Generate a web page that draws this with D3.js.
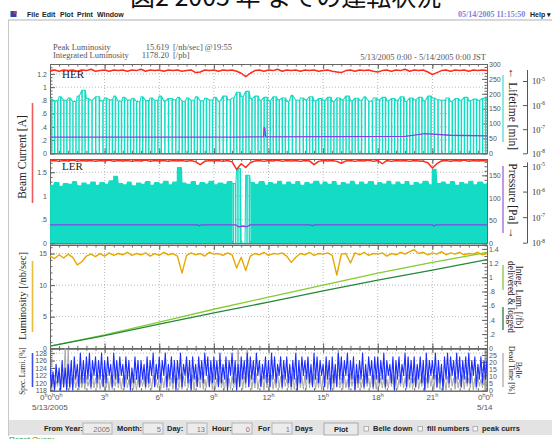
<!DOCTYPE html>
<html>
<head>
<meta charset="utf-8">
<script src="https://cdn.jsdelivr.net/npm/d3@7"></script>
<style>
body { margin: 0; background: #fff; overflow: hidden; }
svg { display: block; }
</style>
</head>
<body>
<div id="chart"></div>
<script>

// ---- values ----
var hourTicks = [0, 3, 6, 9, 12, 15, 18, 21, 24];
var hourLabels = ['3', '6', '9', '12', '15', '18', '21'];

// beam currents [A], one value every 15 min
var herCurrent = [1.25,1.26,1.24,1.26,1.25,1.26,1.24,1.26,1.25,1.27,1.24,1.25,1.26,1.24,1.26,1.25,1.26,1.24,1.26,1.25,
	1.27,1.24,1.26,1.25,1.26,1.24,1.26,1.25,1.26,1.24,1.25,1.26,1.22,1.23,1.26,1.25,1.26,1.24,1.26,1.25,
	1.26,1.24,1.21,1.16,1.21,1.25,1.26,1.24,1.26,1.25,1.27,1.24,1.26,1.25,1.26,1.24,1.26,1.25,1.26,1.24,
	1.25,1.26,1.24,1.23,1.22,1.25,1.26,1.24,1.26,1.25,1.26,1.24,1.23,1.25,1.26,1.24,1.26,1.25,1.27,1.24,
	1.26,1.25,1.26,1.23,1.19,1.22,1.25,1.26,1.24,1.26,1.25,1.26,1.24,1.26,1.25,1.26,1.25];
var lerCurrent = [1.74,1.75,1.73,1.75,1.74,1.76,1.73,1.75,1.74,1.75,1.73,1.75,1.74,1.76,1.73,1.75,1.74,1.75,1.73,1.75,
	1.74,1.76,1.73,1.75,1.74,1.75,1.73,1.75,1.74,1.75,1.73,1.75,1.72,1.66,1.73,1.75,1.74,1.75,1.73,1.75,
	1.72,1.56,1.68,1.60,1.70,1.74,1.75,1.73,1.75,1.74,1.76,1.73,1.75,1.74,1.75,1.73,1.75,1.74,1.66,1.73,
	1.75,1.74,1.75,1.73,1.69,1.74,1.75,1.73,1.75,1.74,1.76,1.73,1.75,1.68,1.75,1.73,1.75,1.74,1.75,1.73,
	1.75,1.74,1.73,1.70,1.59,1.68,1.74,1.75,1.73,1.75,1.74,1.76,1.73,1.75,1.74,1.75,1.74];

// lifetime [min] between injections, every 15 min
var herLife = [182,176,190,178,186,174,192,212,184,178,190,176,186,180,192,175,188,179,185,174,
	190,177,186,178,192,176,184,180,188,175,186,178,190,176,185,179,188,174,192,180,
	186,205,190,208,184,192,178,188,176,190,180,186,174,195,178,186,180,190,176,184,
	178,188,174,186,180,192,176,185,178,190,175,186,180,188,176,184,178,190,174,186,
	180,188,176,192,186,180,178,186,174,184,178,188,176,182,178,185,180];
var lerLife = [128,134,126,132,130,136,127,133,129,135,128,134,130,138,148,132,129,135,127,133,
	130,136,128,134,131,137,129,135,167,133,130,136,128,134,131,137,129,133,130,136,
	132,165,0,150,134,130,136,128,134,131,137,129,135,130,136,128,134,131,137,129,
	135,130,136,128,134,131,137,129,135,130,136,128,134,131,137,129,135,130,136,128,
	134,131,137,129,163,132,135,130,136,128,134,131,137,129,135,130,134];

// injections counted per hour
var herInjPerHour = [6,6,5,6,6,6,5,6,6,5,6,6,6,5,6,6,6,5,6,6,6,5,6,6];
var lerInjPerHour = [14,13,14,14,13,14,14,13,14,14,8,13,14,14,13,14,14,13,14,14,13,14,14,13];

// vacuum pressure [Pa]
var herPTimes  = [0, 10, 11.72, 11.76, 11.8, 11.84, 19.5, 20.6, 22, 24];
var herPValues = [4.7e-8, 4.7e-8, 4.8e-8, 1.15e-7, 1.15e-7, 4.8e-8, 5.0e-8, 6.5e-8, 5.6e-8, 5.3e-8];
var lerPTimes  = [0, 8.1, 8.2, 8.3, 10.2, 10.35, 10.6, 10.8, 11.0, 14.3, 14.4, 14.5, 21.0, 21.1, 21.2, 24];
var lerPValues = [5e-8, 5e-8, 4.6e-8, 5e-8, 5e-8, 4.2e-8, 4.5e-8, 4.2e-8, 5e-8, 5e-8, 4.6e-8, 5e-8, 5e-8, 4.5e-8, 5e-8, 5e-8];

// luminosity [/nb/sec], every 15 min
var lumi = [14.6,14.2,14.8,14.3,14.9,14.4,13.2,13.7,14.6,14.9,14.5,15.0,14.6,15.1,14.7,15.0,14.8,15.2,14.7,15.0,
	14.8,15.1,14.6,15.0,14.7,15.2,14.8,15.0,14.6,11.9,14.7,15.1,14.8,15.0,14.6,15.2,14.9,15.0,14.7,15.1,
	14.8,12.7,14.4,12.3,14.6,15.0,14.8,15.2,14.7,15.0,14.9,15.1,14.6,13.6,14.4,15.0,14.8,15.2,14.7,15.0,
	14.9,15.1,14.7,11.6,14.9,15.0,13.5,15.1,14.8,15.2,14.7,15.0,14.9,15.1,14.6,15.0,14.8,15.2,14.9,15.3,
	15.6,15.0,15.2,14.8,15.1,14.9,15.3,14.8,15.1,14.9,15.2,14.8,15.0,14.9,15.2,14.8,15.0];

// integrated luminosity [/fb], every 3 h
var delivered = [0.03, 0.19, 0.37, 0.55, 0.72, 0.89, 1.06, 1.21, 1.35];
var logged    = [0.03, 0.18, 0.34, 0.50, 0.65, 0.81, 0.96, 1.10, 1.25];

// specific luminosity [%], max and min in each 10 min
var specHi = [124,123,125,124,126,124, 125,126,127,125,128,126, 127,128,126,127,126,128, 126,127,125,128,126,127,
	125,127,126,124,127,126, 126,125,127,126,128,125, 127,126,128,125,127,126, 126,128,125,127,126,127,
	125,127,126,128,127,126, 127,126,128,125,127,126, 128,126,125,127,126,128, 127,126,128,126,125,127,
	126,128,127,125,127,126, 127,125,126,128,126,127, 126,127,125,128,127,126, 125,127,126,127,125,128,
	127,126,128,126,127,125, 126,128,125,127,126,127, 127,126,128,126,125,127, 126,127,125,128,127,126,
	127,125,127,126,128,126, 126,128,126,125,127,128, 127,126,128,127,126,127, 128,126,127,125,127,126, 126];
var specLo = [119,118,120,118,119,118, 119,118,121,119,120,120, 121,119,122,120,121,119, 120,122,119,121,120,122,
	119,121,118,120,121,119, 121,119,120,122,119,121, 120,122,119,121,120,118, 121,119,122,120,118,121,
	119,121,120,122,119,120, 121,119,120,121,118,122, 120,118,119,121,120,119, 121,120,122,119,121,120,
	119,121,120,122,119,121, 120,119,121,118,120,122, 121,120,119,121,120,122, 119,121,118,120,119,121,
	120,122,119,121,118,120, 121,119,120,122,119,121, 120,121,119,122,120,118, 121,120,122,119,121,120,
	119,121,120,118,120,122, 121,119,120,118,121,120, 122,120,121,119,121,120, 120,122,119,121,120,121, 121];

// Belle dead time [%], max and min in each 10 min
var deadHi = [8,9,7,10,12,30, 29,9,11,8,10,9, 10,8,12,9,11,8, 11,9,10,8,12,9,
	9,11,8,13,9,10, 8,10,12,9,11,8, 11,9,10,12,9,11, 9,12,10,20,8,11,
	10,9,13,8,11,10, 12,9,10,8,11,9, 10,9,30,12,10,30, 11,9,12,8,10,11,
	9,11,8,12,10,11, 8,10,12,9,11,10, 11,20,10,12,9,11, 10,18,9,11,12,30,
	9,11,8,12,10,11, 10,8,12,9,11,10, 11,9,10,8,12,10, 10,8,11,9,12,9,
	9,12,8,10,9,11, 10,11,9,12,8,10, 12,9,10,8,11,10, 9,12,9,10,8,11, 10];
var deadLo = [2,1,3,1,2,2, 1,3,2,0,2,1, 3,1,2,2,1,3, 2,0,1,3,2,1, 1,2,3,1,0,2, 3,1,2,1,3,2,
	1,2,0,3,1,2, 2,1,3,2,1,0, 3,2,1,2,3,1, 1,3,2,0,2,1, 2,1,3,1,2,3, 1,2,1,3,0,2,
	3,1,2,2,1,3, 2,0,1,3,2,1, 1,2,3,1,2,0, 3,1,2,1,3,2, 1,2,0,3,1,2, 2,1,3,2,1,1,
	3,2,1,2,3,0, 1,3,2,1,2,1, 2,1,3,1,2,3, 1,2,1,3,0,2, 3,1,2,2,1,3, 2,0,1,3,2,1, 2];


var SERIF = "'Liberation Serif', 'Times New Roman', serif";
var SANS = "'Liberation Sans', Arial, sans-serif";

var svg = d3.select('#chart').append('svg')
	.attr('width', 552)
	.attr('height', 439);

// ---- scales ----
var x = d3.scaleLinear().domain([0, 24]).range([50, 487]);

var yHer = d3.scaleLinear().domain([0, 1.35]).range([153.3, 64]);
var yHerLife = d3.scaleLinear().domain([0, 300]).range([153.3, 64]);
var yHerP = d3.scaleLog().domain([1e-8, 3e-5]).range([153.3, 69.5]);

var yLer = d3.scaleLinear().domain([0, 1.78]).range([243.3, 159]);
var yLerLife = d3.scaleLinear().domain([0, 186]).range([243.3, 159]);
var yLerP = d3.scaleLog().domain([1e-8, 1.45e-5]).range([242.7, 161.9]);

var yLum = d3.scaleLinear().domain([0, 16.35]).range([348.3, 245]);
var yInt = d3.scaleLinear().domain([0, 1.455]).range([348.3, 245]);

var ySpec = d3.scaleLinear().domain([117.9, 129.3]).range([390.7, 348.3]);
var yDead = d3.scaleLinear().domain([0, 29.7]).range([390.7, 348.3]);


// ---- window chrome ----
svg.append('text')
	.attr('x', 130).attr('y', 6)
	.attr('font-family', "'Noto Sans CJK JP', sans-serif")
	.attr('font-size', 25)
	.attr('fill', '#111')
	.text('図2 2005 年 までの運転状況');

svg.append('rect').attr('x', 10.5).attr('y', 11).attr('width', 6).attr('height', 6).attr('fill', '#3040b0');
svg.append('rect').attr('x', 13.5).attr('y', 11).attr('width', 3).attr('height', 3).attr('fill', '#e03030');

var menu = [['File', 27], ['Edit', 42], ['Plot', 60], ['Print', 77], ['Window', 97]];
svg.selectAll('.menu').data(menu).enter().append('text')
	.attr('class', 'menu')
	.attr('x', function(d) { return d[1]; })
	.attr('y', 16.5)
	.attr('font-family', SANS).attr('font-size', 7).attr('font-weight', 'bold')
	.attr('fill', '#222')
	.text(function(d) { return d[0]; });

svg.append('text').attr('x', 458).attr('y', 16.5)
	.attr('font-family', SERIF).attr('font-size', 8).attr('font-weight', 'bold')
	.attr('fill', '#7f7fe0').text('05/14/2005 11:15:50');
svg.append('text').attr('x', 530).attr('y', 16.5)
	.attr('font-family', SANS).attr('font-size', 7).attr('font-weight', 'bold')
	.attr('fill', '#222').text('Help ▾');

svg.append('line').attr('x1', 8).attr('x2', 552).attr('y1', 20).attr('y2', 20)
	.attr('stroke', '#d8d8d8').attr('stroke-width', 2);
svg.append('line').attr('x1', 8.5).attr('x2', 8.5).attr('y1', 20).attr('y2', 436)
	.attr('stroke', '#c8c8c8');

// ---- header texts ----
var head = svg.append('g').attr('font-family', SERIF).attr('font-size', 8.5).attr('fill', '#555');
head.append('text').attr('x', 53).attr('y', 49.5).text('Peak Luminosity');
head.append('text').attr('x', 169).attr('y', 49.5).attr('text-anchor', 'end').text('15.619');
head.append('text').attr('x', 173).attr('y', 49.5).text('[/nb/sec] @19:55');
head.append('text').attr('x', 53).attr('y', 58).text('Integrated Luminosity');
head.append('text').attr('x', 169).attr('y', 58).attr('text-anchor', 'end').text('1178.20');
head.append('text').attr('x', 173).attr('y', 58).text('[/pb]');
head.append('text').attr('x', 486).attr('y', 59.5).attr('text-anchor', 'end')
	.text('5/13/2005 0:00 - 5/14/2005 0:00 JST');


// ---- axis helpers ----
function styleAxis(g) {
	g.attr('font-family', SANS).attr('font-size', 7);
	g.selectAll('path, line').attr('stroke', '#666');
	g.selectAll('text').attr('fill', '#555');
	return g;
}

function fmt(v) {
	return d3.format('~g')(v).replace(/^0\./, '.');
}

function minors(y, step) {
	var d = y.domain();
	return d3.range(Math.ceil(d[0] / step) * step, d[1] + 1e-9, step);
}

function panel(y, top, bottom, leftTicks, leftStep, yR, rightTicks, rightStep) {
	// dotted grid
	svg.append('g').selectAll('line').data(leftTicks.filter(function(v) {
		return y(v) > top + 1 && y(v) < bottom - 1;
	})).enter().append('line')
		.attr('x1', 50).attr('x2', 487)
		.attr('y1', function(d) { return y(d); }).attr('y2', function(d) { return y(d); })
		.attr('stroke', '#b8b8b8').attr('stroke-dasharray', '1,2');
	svg.append('g').selectAll('line').data(hourTicks.slice(1, -1)).enter().append('line')
		.attr('x1', function(d) { return x(d); }).attr('x2', function(d) { return x(d); })
		.attr('y1', top).attr('y2', bottom)
		.attr('stroke', '#b8b8b8').attr('stroke-dasharray', '1,2');

	// time ticks, top and bottom, pointing inward
	var halfHours = d3.range(0, 24.01, 0.5);
	styleAxis(svg.append('g').attr('transform', 'translate(0,' + top + ')')
		.call(d3.axisBottom(x).tickValues(hourTicks).tickSize(5).tickSizeOuter(0).tickFormat('')));
	styleAxis(svg.append('g').attr('transform', 'translate(0,' + top + ')')
		.call(d3.axisBottom(x).tickValues(halfHours).tickSize(2.5).tickSizeOuter(0).tickFormat('')));
	styleAxis(svg.append('g').attr('transform', 'translate(0,' + bottom + ')')
		.call(d3.axisTop(x).tickValues(hourTicks).tickSize(5).tickSizeOuter(0).tickFormat('')));
	styleAxis(svg.append('g').attr('transform', 'translate(0,' + bottom + ')')
		.call(d3.axisTop(x).tickValues(halfHours).tickSize(2.5).tickSizeOuter(0).tickFormat('')));

	// left
	styleAxis(svg.append('g').attr('transform', 'translate(50,0)')
		.call(d3.axisLeft(y).tickValues(leftTicks).tickSize(-5).tickSizeOuter(0).tickPadding(3).tickFormat(fmt)));
	styleAxis(svg.append('g').attr('transform', 'translate(50,0)')
		.call(d3.axisLeft(y).tickValues(minors(y, leftStep)).tickSize(-2.5).tickSizeOuter(0).tickFormat('')));

	// right
	styleAxis(svg.append('g').attr('transform', 'translate(487,0)')
		.call(d3.axisRight(yR).tickValues(rightTicks).tickSize(-5).tickSizeOuter(0).tickPadding(2).tickFormat(fmt)));
	styleAxis(svg.append('g').attr('transform', 'translate(487,0)')
		.call(d3.axisRight(yR).tickValues(minors(yR, rightStep)).tickSize(-2.5).tickSizeOuter(0).tickFormat('')));
}

function clip(id, top, bottom) {
	svg.append('clipPath').attr('id', id).append('rect')
		.attr('x', 50).attr('y', top).attr('width', 437).attr('height', bottom - top);
	return svg.append('g').attr('clip-path', 'url(#' + id + ')');
}

function logAxis(yP) {
	var g = svg.append('g').attr('transform', 'translate(527,0)')
		.call(d3.axisLeft(yP).tickValues([1e-8, 1e-7, 1e-6, 1e-5]).tickSize(4).tickSizeOuter(0).tickFormat(''));
	g.selectAll('path, line').attr('stroke', '#555');
	var lab = svg.append('g').selectAll('text').data([-8, -7, -6, -5]).enter().append('text')
		.attr('x', 532)
		.attr('y', function(d) { return yP(Math.pow(10, d)) + 3.5; })
		.attr('font-family', SERIF).attr('font-size', 8.5).attr('fill', '#333');
	lab.append('tspan').text('10');
	lab.append('tspan').attr('dy', -3.5).attr('font-size', 5.5).text(function(d) { return d; });
}

// lifetime: value held between 15 min samples, falls to 0 at each injection
function lifeSeries(vals, perHour) {
	var pts = vals.map(function(v, i) { return [i / 4, v]; });
	perHour.forEach(function(n, h) {
		for (var k = 0; k < n; k++) {
			var t = h + (k + 0.5) / n;
			var v = vals[Math.floor(t * 4)];
			pts.push([t - 0.004, v], [t, 0], [t + 0.02, 0], [t + 0.024, v]);
		}
	});
	pts.sort(function(a, b) { return a[0] - b[0]; });
	return pts;
}

// max/min per interval drawn as one dense trace
function bandSeries(hi, lo, step) {
	var pts = [];
	hi.forEach(function(v, i) {
		pts.push([i * step, v], [i * step + step / 2, lo[i]]);
	});
	return pts;
}

function drawLine(g, data, y, color, w) {
	g.append('path')
		.datum(data)
		.attr('fill', 'none')
		.attr('stroke', color)
		.attr('stroke-width', w)
		.attr('stroke-linejoin', 'round')
		.attr('d', d3.line()
			.x(function(d) { return x(d[0]); })
			.y(function(d) { return y(d[1]); }));
}

function series(vals, step) {
	return vals.map(function(v, i) { return [i * step, v]; });
}
function zipT(ts, vs) {
	return ts.map(function(t, i) { return [t, vs[i]]; });
}

var CYAN = '#14dcc4', RED = '#ff2a1a', PURPLE = '#8a3ee6';

// ---- panel 1 : HER ----
panel(yHer, 64, 153.3, [0, .2, .4, .6, .8, 1, 1.2], 0.05, yHerLife, [0, 50, 100, 150, 200, 250, 300], 10);
var g1 = clip('c1', 64, 153.3);
drawLine(g1, lifeSeries(herLife, herInjPerHour), yHerLife, CYAN, 1.1);
drawLine(g1, zipT(herPTimes, herPValues), yHerP, PURPLE, 1.3);
drawLine(g1, series(herCurrent, 0.25), yHer, RED, 1.5);
logAxis(yHerP);

// ---- panel 2 : LER ----
panel(yLer, 159, 243.3, [0, .5, 1, 1.5], 0.1, yLerLife, [0, 50, 100, 150], 10);
var g2 = clip('c2', 159, 243.3);
drawLine(g2, lifeSeries(lerLife, lerInjPerHour), yLerLife, CYAN, 1.1);
drawLine(g2, zipT(lerPTimes, lerPValues), yLerP, PURPLE, 1.3);
drawLine(g2, series(lerCurrent, 0.25), yLer, RED, 1.5);
logAxis(yLerP);

svg.append('text').attr('x', 62).attr('y', 78).attr('font-family', SERIF).attr('font-size', 11)
	.attr('fill', '#222').text('HER');
svg.append('text').attr('x', 62).attr('y', 170).attr('font-family', SERIF).attr('font-size', 11)
	.attr('fill', '#222').text('LER');

// ---- panel 3 : luminosity ----
panel(yLum, 245, 348.3, [0, 5, 10, 15], 1, yInt, [0, .2, .4, .6, .8, 1, 1.2, 1.4], 0.05);
var g3 = clip('c3', 245, 348.3);
drawLine(g3, zipT(hourTicks, delivered), yInt, '#86cc2e', 1.3);
drawLine(g3, zipT(hourTicks, logged), yInt, '#23893a', 1.3);
drawLine(g3, series(lumi, 0.25), yLum, '#e6a800', 1.4);

// ---- panel 4 : specific luminosity / dead time ----
panel(ySpec, 348.3, 390.7, [118, 120, 122, 124, 126, 128], 0.5, yDead, [0, 5, 10, 15, 20, 25], 1);
var g4 = clip('c4', 348.3, 390.7);
drawLine(g4, bandSeries(deadHi, deadLo, 1 / 6), yDead, '#a8a8a8', 1);
drawLine(g4, bandSeries(specHi, specLo, 1 / 6), ySpec, '#1a2cff', 1.1);

// ---- time labels ----
var xl = svg.append('g').attr('font-family', SANS).attr('font-size', 8).attr('fill', '#555');
var hl = xl.selectAll('.hl').data(hourLabels).enter().append('text')
	.attr('x', function(d) { return x(+d); })
	.attr('y', 400)
	.attr('text-anchor', 'middle');
hl.append('tspan').text(function(d) { return d; });
hl.append('tspan').attr('dy', -3).attr('font-size', 5.5).text('h');

function zeroes(n, x0) {
	var t = xl.append('text').attr('x', x0).attr('y', 400);
	for (var i = 0; i < n; i++) {
		t.append('tspan').attr('dy', i ? 3 : 0).text('0');
		t.append('tspan').attr('dy', -3).attr('font-size', 5.5).text('h');
	}
}
zeroes(3, 40);
zeroes(2, 478);
xl.append('text').attr('x', 32).attr('y', 410).text('5/13/2005');
xl.append('text').attr('x', 477).attr('y', 410).text('5/14');

// ---- side titles ----
function vtitle(lines, cx, cy, size, rot, gap) {
	var t = svg.append('text')
		.attr('transform', 'translate(' + cx + ',' + cy + ') rotate(' + rot + ')')
		.attr('text-anchor', 'middle')
		.attr('font-family', SERIF).attr('font-size', size).attr('fill', '#222');
	lines.forEach(function(l, i) {
		t.append('tspan').attr('x', 0).attr('dy', i ? gap : 0).text(l);
	});
}
function bar(xp, y1, y2, color) {
	svg.append('line').attr('x1', xp).attr('x2', xp).attr('y1', y1).attr('y2', y2)
		.attr('stroke', color).attr('stroke-width', 1.6);
}

vtitle(['Beam Current [A]'], 26, 157, 11.5, -90);
bar(32.5, 103, 203, '#f05a5a');
vtitle(['Luminosity [/nb/sec]'], 26, 296, 10.5, -90);
bar(32.5, 261, 332, '#e8bd3a');
vtitle(['Spec. Lumi. [%]'], 25, 371, 7.2, -90);
bar(32.5, 353, 387, '#3a4cf0');

vtitle(['← Lifetime [min]'], 509, 109, 11.5, 90);
bar(503, 75, 142, '#72e4d8');
vtitle(['Pressure [Pa] →'], 509, 201, 11.5, 90);
bar(503, 166, 233, '#b47ee2');
vtitle(['Integ. Lum. [/fb]', 'delivered & logged'], 516, 297, 9.3, 90, 8.3);
bar(503, 265, 290, '#9ad35a');
bar(503, 307, 330, '#4a9a5a');
vtitle(['Belle', 'Dead Time [%]'], 516, 370, 7.8, 90, 7.3);
bar(503, 353, 387, '#bcbcbc');


// ---- query bar ----
svg.append('rect').attr('x', 9).attr('y', 420).attr('width', 543).attr('height', 15).attr('fill', '#e3e3e3');

var fields = [['From Year:', 44], ['Month:', 117], ['Day:', 167], ['Hour:', 212], ['For', 258], ['Days', 295]];
svg.selectAll('.fl').data(fields).enter().append('text')
	.attr('x', function(d) { return d[1]; }).attr('y', 431)
	.attr('font-family', SANS).attr('font-size', 7.5).attr('font-weight', 'bold').attr('fill', '#222')
	.text(function(d) { return d[0]; });

var boxes = [[83, 29, '2005'], [143, 20, '5'], [187, 20, '13'], [232, 20, '0'], [272, 20, '1']];
var bx = svg.selectAll('.bx').data(boxes).enter().append('g');
bx.append('rect')
	.attr('x', function(d) { return d[0]; }).attr('y', 423)
	.attr('width', function(d) { return d[1]; }).attr('height', 11)
	.attr('fill', '#ececec').attr('stroke', '#a8a8a8').attr('stroke-width', 0.8);
bx.append('text')
	.attr('x', function(d) { return d[0] + d[1] - 2; }).attr('y', 431.5)
	.attr('text-anchor', 'end')
	.attr('font-family', SANS).attr('font-size', 7.5).attr('fill', '#777')
	.text(function(d) { return d[2]; });

svg.append('rect').attr('x', 324).attr('y', 423).attr('width', 34).attr('height', 12)
	.attr('fill', '#e9e9e9').attr('stroke', '#9a9a9a').attr('stroke-width', 0.8);
svg.append('text').attr('x', 341).attr('y', 431.5).attr('text-anchor', 'middle')
	.attr('font-family', SANS).attr('font-size', 7.5).attr('font-weight', 'bold').attr('fill', '#222')
	.text('Plot');

var checks = [[364, 'Belle down'], [418, 'fill numbers'], [473, 'peak currs']];
var ck = svg.selectAll('.ck').data(checks).enter().append('g');
ck.append('rect')
	.attr('x', function(d) { return d[0]; }).attr('y', 426.5).attr('width', 4.5).attr('height', 4.5)
	.attr('fill', '#f6f6f6').attr('stroke', '#999').attr('stroke-width', 0.7);
ck.append('text')
	.attr('x', function(d) { return d[0] + 9; }).attr('y', 431)
	.attr('font-family', SANS).attr('font-size', 7.5).attr('font-weight', 'bold').attr('fill', '#222')
	.text(function(d) { return d[1]; });

svg.append('text').attr('x', 9).attr('y', 442).attr('font-family', SANS).attr('font-size', 8)
	.attr('fill', '#2a9a2a').text('Reset Query');

</script>
</body>
</html>
